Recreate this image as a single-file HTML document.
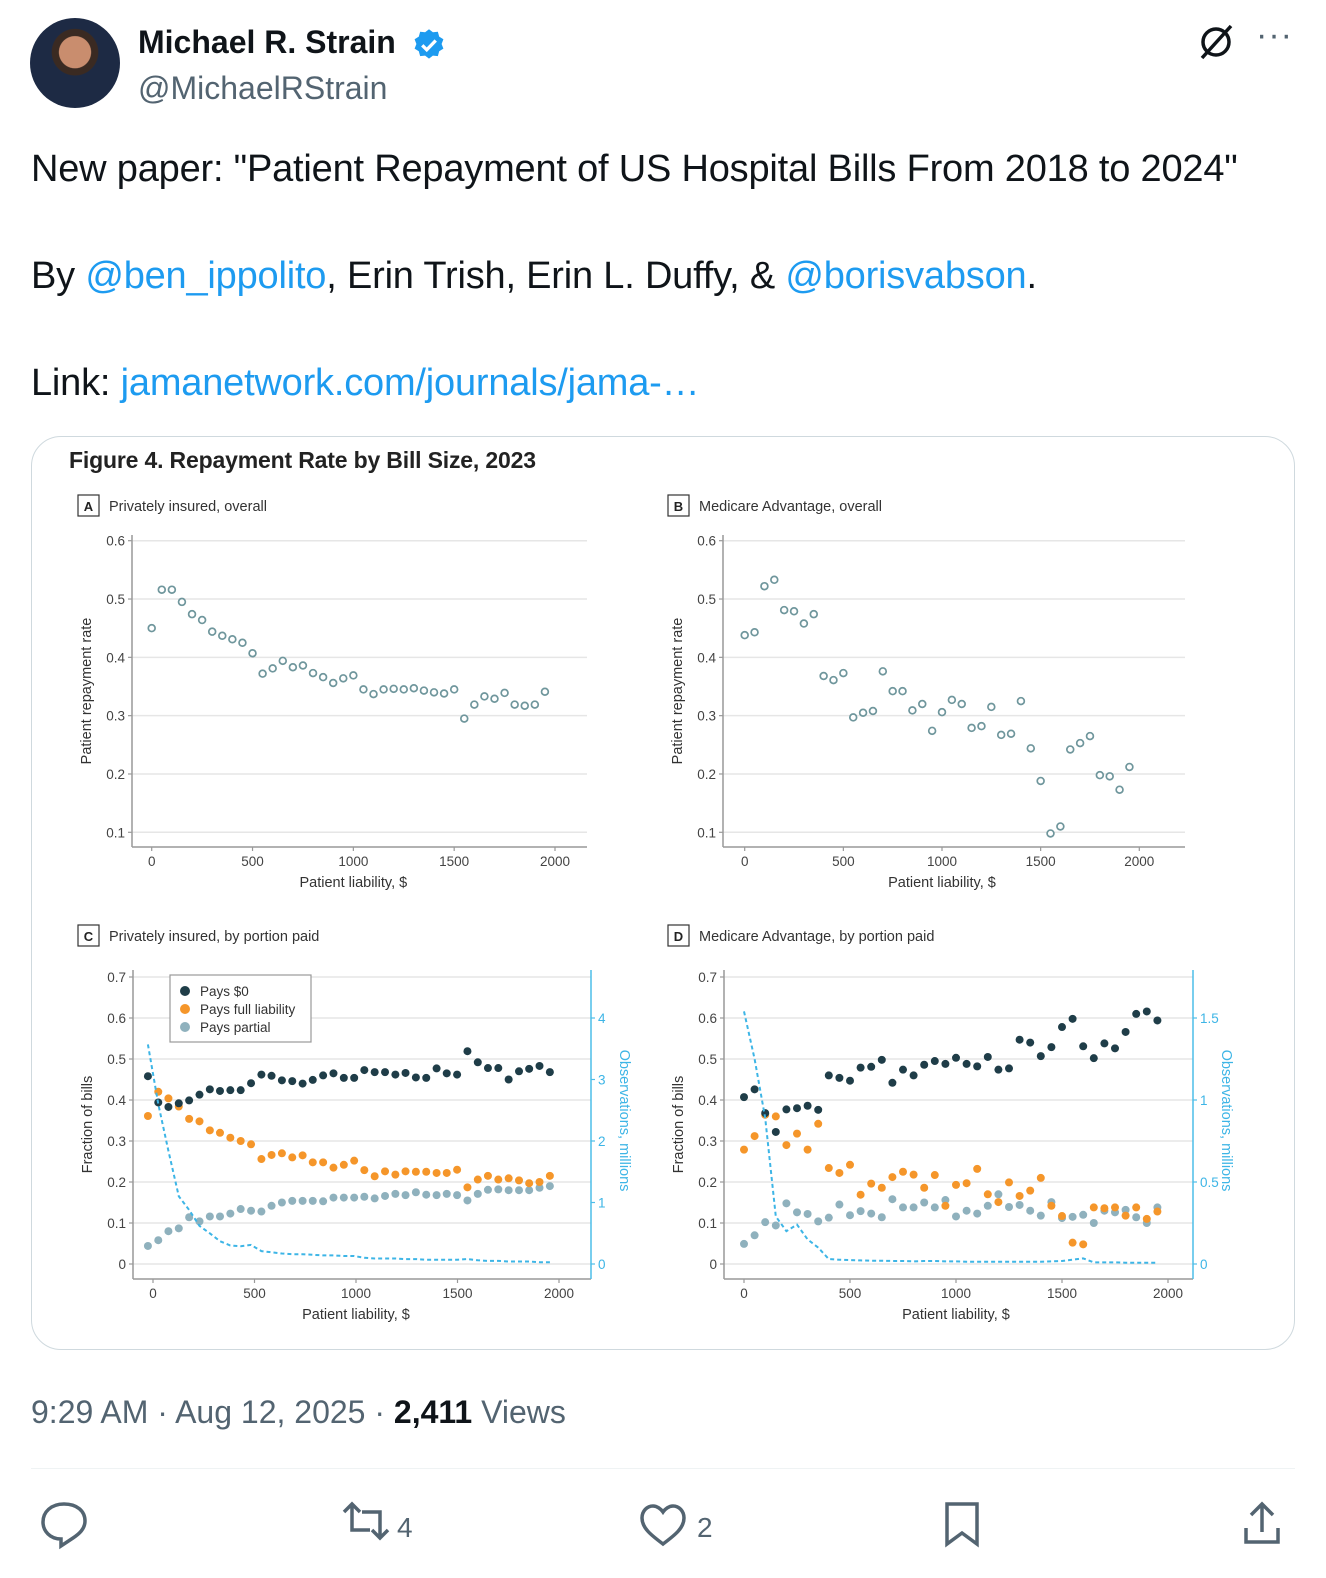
<!DOCTYPE html>
<html><head><meta charset="utf-8">
<style>
body{margin:0;width:1326px;height:1578px;background:#fff;font-family:"Liberation Sans",sans-serif;position:relative;overflow:hidden;color:#0f1419}
.abs{position:absolute}
.link{color:#1d9bf0}
</style></head><body>
<div class="abs" style="left:30px;top:18px;width:90px;height:90px;border-radius:50%;background:radial-gradient(circle at 50% 38%,#c98d6e 0 22%,#3a2a22 23% 32%,#1d2a44 33%);"></div>
<div class="abs" style="left:138px;top:24px;font-size:32px;font-weight:bold">Michael R. Strain</div>
<svg class="abs" style="left:411px;top:27px" width="36" height="36" viewBox="0 0 24 24"><path d="M12 1.5l2.6 2 3.3-.3.9 3.2 2.8 1.8-1.2 3.1 1.2 3.1-2.8 1.8-.9 3.2-3.3-.3-2.6 2-2.6-2-3.3.3-.9-3.2-2.8-1.8 1.2-3.1-1.2-3.1 2.8-1.8.9-3.2 3.3.3z" fill="#1d9bf0"/><path d="M7.5 12.2l3 3 6-6.2" stroke="#fff" stroke-width="2.2" fill="none"/></svg>
<div class="abs" style="left:138px;top:70px;font-size:32px;color:#536471">@MichaelRStrain</div>
<svg class="abs" style="left:1196px;top:22px" width="40" height="40" viewBox="0 0 40 40"><circle cx="20" cy="20" r="13" fill="none" stroke="#0f1419" stroke-width="3.5"/><line x1="6" y1="36" x2="35" y2="4" stroke="#0f1419" stroke-width="3.5"/></svg>
<div class="abs" style="left:1256px;top:16px;font-size:34px;color:#536471;letter-spacing:1px">···</div>
<div class="abs" style="left:31px;top:116px;font-size:38px;line-height:107px;white-space:nowrap;letter-spacing:-0.2px">
<div>New paper: "Patient Repayment of US Hospital Bills From 2018 to 2024"</div>
<div>By <span class="link">@ben_ippolito</span>, Erin Trish, Erin L. Duffy, &amp; <span class="link">@borisvabson</span>.</div>
<div>Link: <span class="link">jamanetwork.com/journals/jama-…</span></div>
</div>
<div class="abs" style="left:31px;top:436px;width:1262px;height:912px;border:1.5px solid #cfd9de;border-radius:30px"></div>
<svg id="fig" class="abs" style="left:0;top:0" width="1326" height="1400"></svg>
<div class="abs" style="left:31px;top:1394px;font-size:32px;color:#536471">9:29 AM · Aug 12, 2025 · <b style="color:#0f1419">2,411</b> Views</div>
<div class="abs" style="left:31px;top:1468px;width:1264px;height:1px;background:#eff3f4"></div>
<svg class="abs" style="left:0;top:1492px" width="1326" height="70">
<g><path d="M64 12c-13 0-21 8-21 18 0 9 7 17 18 17l0 7 12-8c6-4 12-9 12-17 0-10-8-17-21-17z" fill="none" stroke="#536471" stroke-width="3.5"/></g>
<g fill="none" stroke="#536471" stroke-width="3.5"><path d="M344 20l8-8 8 8M352 12v26h18"/><path d="M388 38l-8 8-8-8M380 46V20h-18"/></g>
<text x="397" y="45" font-size="28" fill="#536471">4</text>
<g><path d="M663 52c-12-9-21-16-21-26 0-7 5-12 11-12 4 0 8 3 10 6 2-3 6-6 10-6 6 0 11 5 11 12 0 10-9 17-21 26z" fill="none" stroke="#536471" stroke-width="3.5"/></g>
<text x="697" y="45" font-size="28" fill="#536471">2</text>
<g><path d="M947 12h30v40l-15-11-15 11z" fill="none" stroke="#536471" stroke-width="3.5"/></g>
<g fill="none" stroke="#536471" stroke-width="3.5"><path d="M1262 40V12M1251 23l11-11 11 11M1246 36v14h32V36"/></g>
</svg>
<script>
const xsA=[0,50,100,150,200,250,300,350,400,450,500,550,600,650,700,750,800,850,900,950,1000,1050,1100,1150,1200,1250,1300,1350,1400,1450,1500,1550,1600,1650,1700,1750,1800,1850,1900,1950];
const rateA=[0.45,0.516,0.516,0.495,0.474,0.464,0.444,0.437,0.431,0.425,0.407,0.372,0.381,0.394,0.383,0.386,0.373,0.366,0.356,0.364,0.369,0.345,0.337,0.345,0.346,0.345,0.347,0.343,0.34,0.338,0.345,0.295,0.319,0.333,0.329,0.339,0.319,0.317,0.319,0.341];
const rateB=[0.438,0.443,0.522,0.533,0.481,0.479,0.458,0.474,0.368,0.361,0.373,0.297,0.305,0.308,0.376,0.342,0.342,0.309,0.32,0.274,0.306,0.327,0.32,0.279,0.282,0.315,0.267,0.269,0.325,0.244,0.188,0.098,0.11,0.242,0.253,0.265,0.198,0.196,0.173,0.212];
const xsC=[-25,26,76,127,178,229,280,330,381,432,483,534,584,635,686,737,787,838,889,940,991,1041,1092,1143,1194,1244,1295,1346,1397,1447,1498,1549,1600,1650,1701,1752,1803,1853,1904,1955];
const zeroC=[0.458,0.394,0.383,0.392,0.399,0.413,0.426,0.422,0.424,0.424,0.441,0.462,0.459,0.448,0.446,0.44,0.449,0.46,0.465,0.454,0.454,0.473,0.468,0.468,0.462,0.466,0.455,0.454,0.477,0.465,0.462,0.519,0.492,0.478,0.478,0.45,0.47,0.476,0.483,0.468];
const fullC=[0.361,0.42,0.404,0.384,0.354,0.348,0.326,0.32,0.308,0.3,0.292,0.256,0.266,0.27,0.26,0.265,0.248,0.248,0.235,0.242,0.252,0.229,0.214,0.226,0.218,0.226,0.225,0.225,0.222,0.222,0.23,0.187,0.206,0.215,0.206,0.209,0.204,0.197,0.2,0.215];
const partC=[0.044,0.058,0.08,0.087,0.114,0.104,0.116,0.116,0.123,0.134,0.13,0.128,0.142,0.15,0.154,0.154,0.154,0.153,0.162,0.162,0.162,0.164,0.16,0.166,0.171,0.168,0.175,0.169,0.168,0.171,0.168,0.155,0.171,0.181,0.182,0.18,0.18,0.18,0.186,0.19];
const obsC=[3.57,2.6,1.84,1.1,0.88,0.62,0.5,0.37,0.3,0.29,0.31,0.21,0.19,0.17,0.16,0.16,0.15,0.14,0.14,0.13,0.13,0.1,0.09,0.09,0.09,0.08,0.08,0.07,0.07,0.07,0.07,0.08,0.06,0.05,0.05,0.04,0.04,0.04,0.03,0.03];
const zeroD=[0.407,0.426,0.368,0.322,0.377,0.38,0.386,0.376,0.46,0.454,0.447,0.479,0.481,0.498,0.442,0.474,0.46,0.486,0.495,0.488,0.503,0.488,0.482,0.505,0.474,0.477,0.547,0.54,0.507,0.529,0.578,0.598,0.531,0.502,0.538,0.526,0.566,0.61,0.616,0.594];
const fullD=[0.279,0.312,0.364,0.36,0.29,0.318,0.279,0.342,0.234,0.222,0.242,0.169,0.196,0.186,0.212,0.225,0.218,0.186,0.217,0.142,0.193,0.197,0.232,0.17,0.151,0.199,0.166,0.179,0.21,0.142,0.117,0.052,0.048,0.138,0.136,0.138,0.118,0.138,0.11,0.128];
const partD=[0.049,0.07,0.102,0.094,0.148,0.126,0.122,0.104,0.113,0.145,0.119,0.129,0.123,0.114,0.158,0.138,0.138,0.15,0.138,0.156,0.116,0.13,0.123,0.142,0.17,0.139,0.144,0.13,0.118,0.151,0.112,0.115,0.12,0.1,0.13,0.126,0.132,0.114,0.1,0.138];
const obsD=[1.54,1.25,0.89,0.29,0.2,0.24,0.15,0.1,0.03,0.026,0.024,0.022,0.02,0.02,0.018,0.018,0.016,0.018,0.018,0.016,0.016,0.014,0.014,0.014,0.014,0.014,0.014,0.014,0.014,0.016,0.018,0.026,0.034,0.01,0.01,0.01,0.008,0.008,0.008,0.008];
const xTicks=[0,500,1000,1500,2000];
const yTicksAB=[0.1,0.2,0.3,0.4,0.5,0.6];
const yTicksCD=[0,0.1,0.2,0.3,0.4,0.5,0.6,0.7];
const rTicksC=[0,1,2,3,4];
const rTicksD=[0,0.5,1,1.5];

const NS='http://www.w3.org/2000/svg';
const svg=document.getElementById('fig');
function mk(tag,attrs,parent,txt){const e=document.createElementNS(NS,tag);for(const k in attrs)e.setAttribute(k,attrs[k]);if(txt!==undefined)e.textContent=txt;(parent||svg).appendChild(e);return e;}
const F='"Liberation Sans",sans-serif';
let t=mk('text',{x:69,y:468,'font-size':23,'font-weight':'bold',fill:'#222','font-family':F,textLength:467},svg,'Figure 4.  Repayment Rate by Bill Size, 2023');



function panel(cfg){
  const g=mk('g',{});
  
  
  const sx=v=>cfg.x0+(v/2000)*(cfg.x2000-cfg.x0);
  const sy=v=>cfg.y0-(v-cfg.yBase)*cfg.ppu;
  const lb=mk('rect',{x:cfg.lx,y:cfg.ly-11,width:21,height:21,fill:'#fff',stroke:'#333','stroke-width':1.2},g);
  
  
  mk('text',{x:cfg.lx+10.5,y:cfg.ly+5,'font-size':13,'font-weight':'bold','text-anchor':'middle',fill:'#222','font-family':F},g,cfg.letter);
  const pt=mk('text',{x:cfg.lx+31,y:cfg.ly+5,'font-size':14.5,fill:'#333','font-family':F},g,cfg.title);
  
  
  cfg.yTicks.forEach(v=>{
    const y=sy(v);
    mk('line',{x1:cfg.axX,x2:cfg.gridRight,y1:y,y2:y,stroke:'#e6e6e6','stroke-width':1.5},g);
    mk('line',{x1:cfg.axX-4,x2:cfg.axX,y1:y,y2:y,stroke:'#999','stroke-width':1.2},g);
    const tl=mk('text',{x:cfg.axX-7,y:y+5,'font-size':13.5,'text-anchor':'end',fill:'#444','font-family':F},g,v===0?'0':String(v));
    
    
  });
  mk('line',{x1:cfg.axX,x2:cfg.axX,y1:cfg.axTop,y2:cfg.axBottom,stroke:'#999','stroke-width':1.5},g);
  mk('line',{x1:cfg.axX,x2:cfg.gridRight,y1:cfg.axBottom,y2:cfg.axBottom,stroke:'#999','stroke-width':1.5},g);
  xTicks.forEach(v=>{
    const x=sx(v);
    mk('line',{x1:x,x2:x,y1:cfg.axBottom,y2:cfg.axBottom+4,stroke:'#999','stroke-width':1.2},g);
    const tl=mk('text',{x:x,y:cfg.axBottom+19,'font-size':13.5,'text-anchor':'middle',fill:'#444','font-family':F},g,String(v));
    
    
  });
  const xt=mk('text',{x:(sx(0)+sx(2000))/2,y:cfg.axBottom+40,'font-size':14.5,'text-anchor':'middle',fill:'#333','font-family':F},g,'Patient liability, $');
  
  
  const ym=(cfg.axTop+cfg.axBottom)/2;
  const yt=mk('text',{x:0,y:0,'font-size':14.5,'text-anchor':'middle',fill:'#333','font-family':F,transform:`translate(${cfg.axX-41},${ym}) rotate(-90)`},g,cfg.yTitle);
  
  
  return {g,sx,sy};
}
function hollow(p,xs,vals){
  vals.forEach((v,i)=>{
    const c=mk('circle',{cx:p.sx(xs[i]),cy:p.sy(v),r:3.4,fill:'#fff',stroke:'#6f969c','stroke-width':1.7},p.g);
    
    
  });
}
function filled(p,xs,vals,color,name){
  vals.forEach((v,i)=>{
    const c=mk('circle',{cx:p.sx(xs[i]),cy:p.sy(v),r:4,fill:color},p.g);
    
    
  });
}
function obsLine(p,xs,vals,rScale){
  const d=vals.map((v,i)=>(i?'L':'M')+p.sx(xs[i]).toFixed(1)+' '+p.sy(v*rScale).toFixed(1)).join(' ');
  const l=mk('path',{d:d,fill:'none',stroke:'#3db5e6','stroke-width':2,'stroke-dasharray':'4 3'},p.g);
  
  
}
function rightAxis(p,cfg,ticks,rScale){
  const x=cfg.gridRight;
  mk('line',{x1:x,x2:x,y1:cfg.axTop,y2:cfg.axBottom,stroke:'#4dbde8','stroke-width':1.5},p.g);
  ticks.forEach(v=>{
    const y=p.sy(v*rScale);
    mk('line',{x1:x,x2:x+4,y1:y,y2:y,stroke:'#4dbde8','stroke-width':1.2},p.g);
    const tl=mk('text',{x:x+7,y:y+5,'font-size':13.5,fill:'#3db5e6','font-family':F},p.g,String(v));
    
    
  });
  const ym=p.sy(0.35);
  const tt=mk('text',{x:0,y:0,'font-size':14.5,'text-anchor':'middle',fill:'#3db5e6','font-family':F,transform:`translate(${x+29},${ym}) rotate(90)`},p.g,'Observations, millions');
  
  
}

const cA={name:'panel-a',letter:'A',title:'Privately insured, overall',lx:78,ly:506,x0:151.7,x2000:555,y0:832.3,yBase:0.1,ppu:583.2,axX:132,axTop:535,axBottom:847,gridRight:587,yTicks:yTicksAB,yTitle:'Patient repayment rate'};
const pA=panel(cA); hollow(pA,xsA,rateA);
const cB={name:'panel-b',letter:'B',title:'Medicare Advantage, overall',lx:668,ly:506,x0:744.7,x2000:1139.3,y0:832.3,yBase:0.1,ppu:583.2,axX:723,axTop:535,axBottom:847,gridRight:1185,yTicks:yTicksAB,yTitle:'Patient repayment rate'};
const pB=panel(cB); hollow(pB,xsA,rateB);
const cC={name:'panel-c',letter:'C',title:'Privately insured, by portion paid',lx:78,ly:936,x0:153,x2000:559,y0:1264,yBase:0,ppu:410,axX:133,axTop:970,axBottom:1279,gridRight:591,yTicks:yTicksCD,yTitle:'Fraction of bills'};
const pC=panel(cC);
rightAxis(pC,cC,rTicksC,0.15);
filled(pC,xsC,partC,'#8fb1bd','pays-partial-point');
filled(pC,xsC,fullC,'#f5962a','pays-full-point');
filled(pC,xsC,zeroC,'#1f3d48','pays-zero-point');
obsLine(pC,xsC,obsC,0.15);
const cD={name:'panel-d',letter:'D',title:'Medicare Advantage, by portion paid',lx:668,ly:936,x0:744,x2000:1168,y0:1264,yBase:0,ppu:410,axX:724,axTop:970,axBottom:1279,gridRight:1193,yTicks:yTicksCD,yTitle:'Fraction of bills'};
const pD=panel(cD);
rightAxis(pD,cD,rTicksD,0.4);
filled(pD,xsA,partD,'#8fb1bd','pays-partial-point');
filled(pD,xsA,fullD,'#f5962a','pays-full-point');
filled(pD,xsA,zeroD,'#1f3d48','pays-zero-point');
obsLine(pD,xsA,obsD,0.4);
const lg=mk('g',{});


mk('rect',{x:170,y:975,width:141,height:67,fill:'#fff',stroke:'#999','stroke-width':1.2},lg);
[['Pays $0','#1f3d48',991],['Pays full liability','#f5962a',1009],['Pays partial','#8fb1bd',1027]].forEach(e=>{
  const c=mk('circle',{cx:185,cy:e[2],r:5,fill:e[1]},lg);
  
  
  const tx=mk('text',{x:200,y:e[2]+5,'font-size':13.5,fill:'#333','font-family':F},lg,e[0]);
  
  
});
</script>
</body></html>
